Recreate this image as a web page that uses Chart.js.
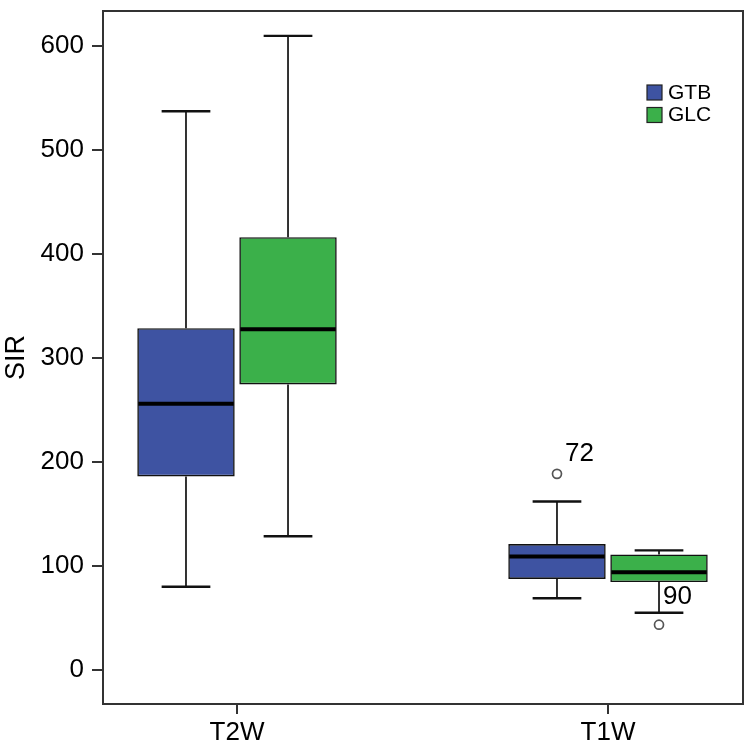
<!DOCTYPE html>
<html>
<head>
<meta charset="utf-8">
<script src="https://cdn.jsdelivr.net/npm/chart.js@4/dist/chart.umd.min.js"></script>
<style>
html,body{margin:0;padding:0;background:#fff;}
#wrap{width:749px;height:752px;}
</style>
</head>
<body>
<div id="wrap"><canvas id="c" width="749" height="752"></canvas></div>
<script>
// ---- data ----
const categories = ['T2W', 'T1W'];
const seriesNames = ['GTB', 'GLC'];
const yTicks = [0, 100, 200, 300, 400, 500, 600];

// per category: [min whisker, Q1, median, Q3, max whisker]
const gtbMin    = [80, 69];
const gtbQ1     = [186, 87.5];
const gtbMedian = [256, 109];
const gtbQ3     = [328.5, 121];
const gtbMax    = [537, 162];
const gtbOutliers   = [[], [188.5]];
const gtbOutlierIds = [[], ['72']];

const glcMin    = [128.5, 55];
const glcQ1     = [274.5, 84.5];
const glcMedian = [327.5, 94];
const glcQ3     = [416, 111];
const glcMax    = [609.5, 115];
const glcOutliers   = [[], [43.5]];
const glcOutlierIds = [[], ['90']];

const FONT = "'Liberation Sans', Arial, Helvetica, sans-serif";
const BLUE = '#3e53a2';
const GREEN = '#3bb04a';

function buildBox(mins, q1s, meds, q3s, maxs, outs, ids) {
  return categories.map((c, i) => ({
    x: i + 1, y: [q1s[i], q3s[i]],
    min: mins[i], median: meds[i], max: maxs[i],
    outliers: outs[i], outlierIds: ids[i]
  }));
}

const boxPlugin = {
  id: 'boxParts',
  beforeDatasetsDraw(chart) {
    const ctx = chart.ctx;
    const ys = chart.scales.y;
    chart.data.datasets.forEach((ds, di) => {
      const meta = chart.getDatasetMeta(di);
      meta.data.forEach((el, i) => {
        const d = ds.data[i];
        const x = el.x, w = el.width;
        ctx.save();
        ctx.strokeStyle = '#111';
        ctx.lineWidth = 1.7;
        ctx.beginPath();
        ctx.moveTo(x, ys.getPixelForValue(d.y[1]));
        ctx.lineTo(x, ys.getPixelForValue(d.max));
        ctx.moveTo(x, ys.getPixelForValue(d.y[0]));
        ctx.lineTo(x, ys.getPixelForValue(d.min));
        ctx.stroke();
        ctx.lineWidth = 2.4;
        ctx.beginPath();
        const pMax = ys.getPixelForValue(d.max), pMin = ys.getPixelForValue(d.min);
        ctx.moveTo(x - w / 4, pMax); ctx.lineTo(x + w / 4, pMax);
        ctx.moveTo(x - w / 4, pMin); ctx.lineTo(x + w / 4, pMin);
        ctx.stroke();
        ctx.restore();
      });
    });
  },
  afterDatasetsDraw(chart) {
    const ctx = chart.ctx;
    const ys = chart.scales.y;
    chart.data.datasets.forEach((ds, di) => {
      const meta = chart.getDatasetMeta(di);
      meta.data.forEach((el, i) => {
        const d = ds.data[i];
        const x = el.x, w = el.width;
        ctx.save();
        ctx.strokeStyle = '#000';
        ctx.lineWidth = 4;
        const pm = ys.getPixelForValue(d.median);
        ctx.beginPath();
        ctx.moveTo(x - w / 2 + 1, pm); ctx.lineTo(x + w / 2 - 1, pm);
        ctx.stroke();
        d.outliers.forEach((v, k) => {
          const py = ys.getPixelForValue(v);
          ctx.beginPath();
          ctx.arc(x, py, 4.5, 0, Math.PI * 2);
          ctx.fillStyle = '#fff';
          ctx.fill();
          ctx.lineWidth = 1.7;
          ctx.strokeStyle = '#555';
          ctx.stroke();
          ctx.fillStyle = '#000';
          ctx.font = '26px ' + FONT;
          ctx.textAlign = 'left';
          ctx.textBaseline = 'middle';
          const above = v > d.max;
          ctx.fillText(d.outlierIds[k], above ? x + 8 : x + 4, above ? py - 20 : py - 28);
        });
        ctx.restore();
      });
    });
    // frame top/right
    const a = chart.chartArea;
    ctx.save();
    ctx.strokeStyle = '#333';
    ctx.lineWidth = 2;
    ctx.strokeRect(a.left, a.top, a.right - a.left, a.bottom - a.top);
    ctx.restore();
    // legend
    ctx.save();
    const lx = 647, ly = 85;
    chart.data.datasets.forEach((ds, di) => {
      const y0 = ly + di * 22.5;
      ctx.fillStyle = ds.backgroundColor;
      ctx.fillRect(lx, y0, 15, 15);
      ctx.strokeStyle = '#222';
      ctx.lineWidth = 1.2;
      ctx.strokeRect(lx, y0, 15, 15);
      ctx.fillStyle = '#000';
      ctx.font = '21px ' + FONT;
      ctx.textAlign = 'left';
      ctx.textBaseline = 'middle';
      ctx.fillText(ds.label, lx + 21, y0 + 8);
    });
    ctx.restore();
  }
};

new Chart(document.getElementById('c'), {
  type: 'bar',
  data: {
    datasets: [
      { label: seriesNames[0], data: buildBox(gtbMin, gtbQ1, gtbMedian, gtbQ3, gtbMax, gtbOutliers, gtbOutlierIds),
        backgroundColor: BLUE, borderColor: '#111', borderWidth: 1.6, borderSkipped: false,
        categoryPercentage: 0.55, barPercentage: 0.955 },
      { label: seriesNames[1], data: buildBox(glcMin, glcQ1, glcMedian, glcQ3, glcMax, glcOutliers, glcOutlierIds),
        backgroundColor: GREEN, borderColor: '#111', borderWidth: 1.6, borderSkipped: false,
        categoryPercentage: 0.55, barPercentage: 0.955 }
    ]
  },
  options: {
    responsive: false,
    animation: false,
    layout: { padding: { top: 11, right: 6, left: 0, bottom: 0 } },
    plugins: { legend: { display: false }, tooltip: { enabled: false } },
    scales: {
      x: {
        type: 'linear',
        offset: false,
        min: 0.6388, max: 2.3639,
        afterBuildTicks: s => { s.ticks = categories.map((c, i) => ({ value: i + 1 })); },
        afterFit: s => { s.height = 48; s.paddingLeft = 0; s.paddingRight = 0; },
        ticks: { callback: v => categories[v - 1] || '', color: '#000', font: { family: FONT, size: 26 }, padding: 3, maxRotation: 0, autoSkip: false },
        grid: { offset: false, drawOnChartArea: false, drawTicks: true, tickLength: 10, color: '#333', lineWidth: 2 },
        border: { display: true, color: '#333', width: 2 }
      },
      y: {
        min: -32.7, max: 633.4,
        afterBuildTicks: s => { s.ticks = yTicks.map(v => ({ value: v })); },
        afterFit: s => { s.width = 103; s.paddingTop = 0; s.paddingBottom = 0; },
        ticks: { color: '#000', font: { family: FONT, size: 26 }, padding: 8 },
        grid: { drawOnChartArea: false, drawTicks: true, tickLength: 11, color: '#333', lineWidth: 2 },
        border: { display: true, color: '#333', width: 2 },
        title: { display: true, text: 'SIR', color: '#000', font: { family: FONT, size: 27 }, padding: { top: 0, bottom: 0 } }
      }
    }
  },
  plugins: [boxPlugin]
});
</script>
</body>
</html>
